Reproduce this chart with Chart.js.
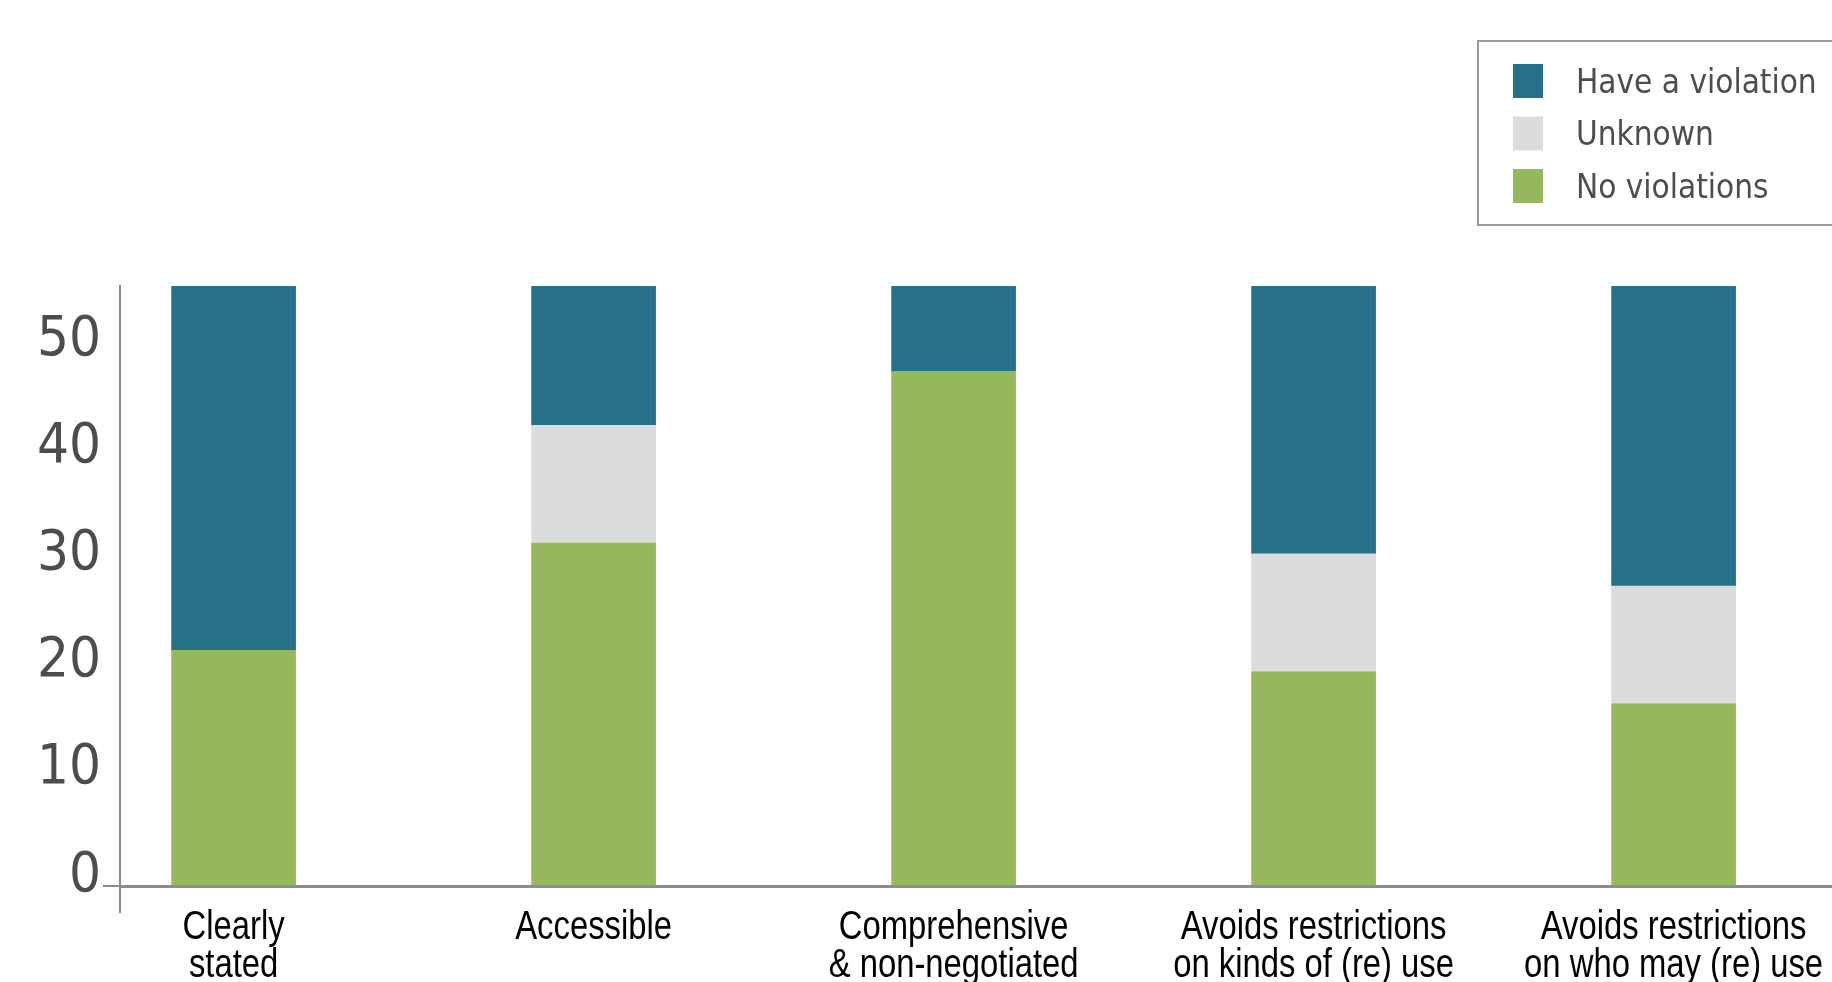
<!DOCTYPE html>
<html>
<head>
<meta charset="utf-8">
<script src="https://cdn.jsdelivr.net/npm/chart.js@4.4.1/dist/chart.umd.min.js"></script>
<style>
  html, body { margin: 0; padding: 0; background: #ffffff; overflow: hidden; }
  #wrap { position: relative; width: 1832px; height: 982px; }
</style>
</head>
<body>
<div id="wrap"><canvas id="c"></canvas></div>
<script>
// ---- data ----
const categories = [
  ['Clearly', 'stated'],
  ['Accessible'],
  ['Comprehensive', '& non-negotiated'],
  ['Avoids restrictions', 'on kinds of (re) use'],
  ['Avoids restrictions', 'on who may (re) use']
];
const seriesNames = ['No violations', 'Unknown', 'Have a violation'];
const noViolations   = [22, 32, 48, 20, 17];
const unknownCounts  = [0, 11, 0, 11, 11];
const haveViolation  = [34, 13, 8, 25, 28];
const yTickValues    = [0, 10, 20, 30, 40, 50];
const yMax = 56;

// ---- styles ----
const colors = ['#96b85d', '#dbdddc', '#27718a'];
const axisColor = '#8c8c8c';
const tickFont = "'DejaVu Sans Condensed', 'DejaVu Sans', sans-serif";
const catFont = "'Liberation Sans Narrow', 'Liberation Sans', Arial, sans-serif";
const catSqueeze = 0.82;

const toPoints = arr => arr.map((v, i) => ({ x: i, y: v }));

const legendPlugin = {
  id: 'customLegend',
  afterDraw(chart) {
    const ctx = chart.ctx;
    ctx.save();
    ctx.strokeStyle = '#9a9a9a';
    ctx.lineWidth = 2;
    ctx.strokeRect(1478, 41, 420, 184);
    const ds = chart.data.datasets.slice().reverse();
    ctx.font = "33px " + tickFont;
    ctx.textBaseline = 'middle';
    ctx.textAlign = 'left';
    ds.forEach((d, k) => {
      const top = 64 + k * 52.5;
      ctx.fillStyle = d.backgroundColor;
      ctx.fillRect(1513, top, 30, 34);
      ctx.fillStyle = '#4d4d4d';
      ctx.fillText(d.label, 1576, top + 20);
    });
    ctx.restore();
  }
};

const axisExtend = {
  id: 'axisExtend',
  afterDraw(chart) {
    const ctx = chart.ctx, a = chart.chartArea;
    ctx.save();
    ctx.strokeStyle = axisColor;
    ctx.lineWidth = 2;
    ctx.beginPath();
    ctx.moveTo(a.left, a.bottom);
    ctx.lineTo(a.left, a.bottom + 27);
    ctx.stroke();
    ctx.restore();
  }
};

// draw the library's x tick label items with a narrow horizontal scale
function narrowLabels(chartArea) {
  const ctx = this.ctx;
  const items = this.getLabelItems(chartArea);
  for (const item of items) {
    const o = item.options;
    const font = item.font;
    const lines = Array.isArray(item.label) ? item.label : [item.label];
    ctx.save();
    ctx.translate(o.translation[0], o.translation[1]);
    ctx.scale(catSqueeze, 1);
    ctx.font = font.string;
    ctx.fillStyle = o.color;
    ctx.textAlign = o.textAlign;
    ctx.textBaseline = o.textBaseline;
    let y = item.textOffset;
    for (const line of lines) {
      ctx.fillText(line, 0, y);
      y += font.lineHeight;
    }
    ctx.restore();
  }
}

const pxPerUnit = 360;
const plotLeft = 120, plotRight = 1832;
const firstCenter = 233.6;
const xMin = -(firstCenter - plotLeft) / pxPerUnit;
const xMax = xMin + (plotRight - plotLeft) / pxPerUnit;

new Chart(document.getElementById('c'), {
  type: 'bar',
  data: {
    datasets: [
      { label: seriesNames[0], data: toPoints(noViolations),  backgroundColor: colors[0] },
      { label: seriesNames[1], data: toPoints(unknownCounts), backgroundColor: colors[1] },
      { label: seriesNames[2], data: toPoints(haveViolation), backgroundColor: colors[2] }
    ]
  },
  options: {
    responsive: true,
    maintainAspectRatio: false,
    animation: false,
    barThickness: 124,
    layout: { autoPadding: false, padding: { top: 286, left: 0, right: 0, bottom: 0 } },
    plugins: {
      legend: { display: false },
      tooltip: { enabled: false },
      title: { display: false }
    },
    scales: {
      x: {
        type: 'linear',
        stacked: true,
        offset: false,
        min: xMin,
        max: xMax,
        grid: { display: false, drawTicks: false, tickLength: 0, offset: false },
        border: { display: true, color: axisColor, width: 3 },
        afterBuildTicks: s => { s.ticks = categories.map((c, i) => ({ value: i })); },
        afterFit: s => {
          s.height = 96;
          s.paddingLeft = 0; s.paddingRight = 0;
          s.drawLabels = narrowLabels;
        },
        ticks: {
          autoSkip: false,
          maxRotation: 0,
          minRotation: 0,
          padding: 23,
          color: '#000000',
          font: { family: catFont, size: 40, lineHeight: 0.95 },
          callback: v => categories[v]
        }
      },
      y: {
        stacked: true,
        min: 0,
        max: yMax,
        grid: {
          display: true,
          drawOnChartArea: false,
          drawTicks: true,
          tickLength: 17,
          lineWidth: 2,
          color: c => (c.tick && c.tick.value === 0) ? axisColor : 'rgba(0,0,0,0)'
        },
        border: { display: true, color: axisColor, width: 2 },
        afterBuildTicks: s => { s.ticks = yTickValues.map(v => ({ value: v })); },
        afterFit: s => { s.width = 120; s.paddingTop = 0; s.paddingBottom = 0; },
        ticks: {
          padding: 2,
          labelOffset: -10,
          color: '#4d4d4d',
          font: { family: tickFont, size: 56 }
        }
      }
    }
  },
  plugins: [legendPlugin, axisExtend]
});
</script>
</body>
</html>
